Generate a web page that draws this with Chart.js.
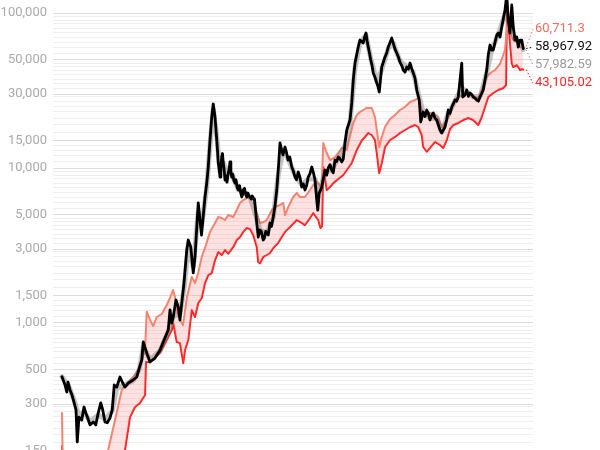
<!DOCTYPE html>
<html>
<head>
<meta charset="utf-8">
<script src="https://cdn.jsdelivr.net/npm/chart.js@4.4.1/dist/chart.umd.min.js"></script>
<style>
  html, body { margin: 0; padding: 0; width: 600px; height: 450px; overflow: hidden; background: #fff; }
  #wrap { position: absolute; left: 0; top: 0; width: 600px; height: 470px; }
</style>
</head>
<body>
<div id="wrap"><canvas id="chart" width="600" height="470"></canvas></div>
<script>
// Days since start of the series
const blackDays = [0, 24, 38, 48, 64, 80, 96, 112, 122, 136,
  158, 176, 190, 206, 224, 250, 270, 290, 310, 326,
  344, 362, 384, 402, 418, 438, 464, 486, 504, 530,
  570, 598, 618, 638, 650, 678, 704, 744, 784, 810,
  850, 864, 878, 890, 912, 930, 944, 958, 976, 998,
  1010, 1030, 1050, 1064, 1090, 1116, 1144, 1158, 1170, 1184,
  1198, 1210, 1224, 1238, 1244, 1250, 1257, 1264, 1271, 1278,
  1284, 1290, 1297, 1304, 1312, 1320, 1330, 1337, 1344, 1351,
  1358, 1366, 1375, 1384, 1392, 1401, 1410, 1420, 1430, 1438,
  1444, 1450, 1460, 1469, 1478, 1487, 1496, 1504, 1514, 1522,
  1530, 1540, 1550, 1558, 1570, 1577, 1584, 1595, 1603, 1610,
  1620, 1630, 1638, 1650, 1664, 1676, 1690, 1703, 1718, 1730,
  1744, 1756, 1768, 1784, 1796, 1808, 1822, 1838, 1850, 1864,
  1876, 1890, 1904, 1918, 1930, 1944, 1957, 1970, 1984, 1998,
  2010, 2024, 2038, 2046, 2058, 2078, 2104, 2117, 2130, 2144,
  2158, 2170, 2184, 2197, 2210, 2224, 2238, 2250, 2264, 2278,
  2304, 2318, 2330, 2344, 2370, 2384, 2410, 2421, 2432, 2441,
  2450, 2460, 2470, 2480, 2490, 2504, 2518, 2528, 2538, 2558,
  2584, 2597, 2610, 2638, 2650, 2664, 2678, 2691, 2704, 2717,
  2730, 2744, 2758, 2771, 2784, 2797, 2810, 2824, 2838, 2858,
  2870, 2890, 2904, 2918, 2931, 2944, 2957, 2970, 2984, 2998,
  3011, 3024, 3038, 3064, 3077, 3090, 3104, 3118, 3131, 3144,
  3157, 3170, 3198, 3206, 3222, 3238, 3251, 3264, 3277, 3290,
  3304, 3318, 3331, 3344, 3370, 3398, 3410, 3424, 3438, 3450,
  3478, 3490, 3504, 3518, 3544, 3558, 3570, 3584, 3598, 3610,
  3624, 3638, 3650, 3664, 3678, 3690];
const blackPrice = [450, 398, 359, 416, 370, 343, 309, 275, 171, 247,
  237, 287, 263, 244, 220, 230, 220, 263, 305, 275,
  230, 227, 244, 275, 398, 386, 448, 410, 386, 410,
  429, 448, 512, 577, 754, 640, 560, 594, 669, 754,
  901, 1213, 1000, 1093, 1407, 1268, 1046, 1345, 1811, 2958,
  3431, 3094, 2103, 2666, 5950, 3696, 6500, 8000, 10150, 15160,
  21340, 25870, 21340, 15160, 13000, 10770, 9900, 8750, 10200, 11770,
  12400, 10770, 9800, 8366, 8900, 8100, 9282, 9800, 10940, 9600,
  8750, 9100, 8300, 8000, 8400, 7500, 7211, 7700, 6900, 6500,
  6700, 7211, 7400, 6800, 6500, 6900, 6600, 6500, 6300, 6600,
  6400, 6300, 5200, 4416, 3588, 3800, 3981, 3900, 3600, 3431,
  3550, 3900, 3800, 3700, 4416, 4200, 4830, 5600, 7211, 9707,
  14500, 13200, 12130, 13660, 12600, 11260, 11800, 10150, 9600, 8750,
  8400, 9420, 8700, 7530, 7900, 7211, 7700, 8750, 9200, 10150,
  9420, 8366, 6214, 5357, 6900, 7530, 9707, 9000, 10000, 10500,
  9707, 9300, 11260, 11000, 11770, 11500, 10940, 11400, 14500, 17590,
  20400, 26300, 36960, 47560, 60330, 66940, 64020, 70000, 74290, 66000,
  60330, 55000, 49730, 46000, 41010, 38500, 35350, 33500, 30930, 44820,
  52000, 55000, 60330, 68960, 64020, 58500, 55190, 52000, 48280, 46000,
  42860, 41500, 44820, 43500, 47560, 44000, 41010, 38000, 31860, 27460,
  19800, 22980, 21500, 23670, 22500, 20400, 21800, 22640, 21000, 20400,
  19000, 17590, 16820, 18390, 20500, 23670, 22500, 24750, 26000, 27460,
  27000, 28720, 47560, 28720, 29500, 31860, 29000, 30470, 29800, 28720,
  28200, 27460, 27000, 28720, 31860, 42860, 53570, 62140, 57700, 57700,
  72110, 74290, 70000, 81220, 104560, 130700, 90120, 74290, 112630, 81220,
  66940, 70000, 60330, 66940, 66940, 58967.92];

const grayDays = [0, 48, 96, 136, 176, 224, 290, 344, 402, 438, 504, 570, 618, 650, 704, 784, 850, 890, 944, 976,
  1010, 1050, 1090, 1116, 1158, 1184, 1210, 1238, 1264, 1290, 1330, 1358, 1410, 1450, 1504, 1558, 1584, 1638, 1690, 1730,
  1768, 1808, 1864, 1918, 1970, 2024, 2058, 2104, 2158, 2210, 2264, 2304, 2344, 2384, 2432, 2470, 2518, 2558, 2610, 2650,
  2704, 2758, 2810, 2858, 2890, 2944, 2998, 3038, 3090, 3144, 3198, 3238, 3290, 3344, 3398, 3438, 3490, 3544, 3584, 3624, 3664, 3690];
const grayPrice = [450, 400, 320, 250, 270, 230, 255, 240, 270, 380, 400, 425, 500, 700, 580, 660, 880, 1100, 1150, 1650,
  3100, 2300, 5200, 4200, 7500, 14000, 24000, 16000, 9500, 10800, 9300, 9200, 7300, 7000, 6500, 4700, 4000, 3800, 4800, 9000,
  13000, 11500, 9000, 7800, 8500, 8500, 7000, 9300, 9800, 11500, 14000, 19500, 44000, 64000, 72000, 51000, 36500, 43000, 59000, 64000,
  49000, 45000, 41500, 28500, 23000, 21000, 20800, 17200, 22500, 27000, 33000, 31000, 28800, 28800, 41000, 58000, 73000, 98000, 85000, 68000, 64000, 57982.59];

const upperDays = [0, 8, 304, 344, 370, 424, 478, 530, 570, 610, 638, 664, 678, 704, 730, 758, 798, 838, 864, 888,
  904, 918, 944, 968, 1000, 1038, 1064, 1090, 1118, 1144, 1184, 1224, 1250, 1278, 1304, 1330, 1370, 1398, 1424, 1450,
  1478, 1504, 1530, 1558, 1584, 1610, 1638, 1678, 1704, 1744, 1770, 1784, 1810, 1850, 1878, 1904, 1944, 1984, 2010, 2038,
  2064, 2076, 2090, 2118, 2144, 2184, 2210, 2238, 2278, 2304, 2330, 2358, 2384, 2410, 2438, 2478, 2504, 2518, 2538, 2558,
  2584, 2624, 2664, 2704, 2744, 2784, 2824, 2850, 2864, 2878, 2904, 2930, 2970, 3010, 3038, 3064, 3104, 3144, 3170, 3210,
  3264, 3304, 3330, 3358, 3384, 3410, 3438, 3464, 3504, 3544, 3558, 3570, 3584, 3610, 3638, 3664, 3690];
const upperBand = [263, 100, 100, 130, 152, 237, 370, 416, 448, 497, 577, 669, 1183, 1046, 956, 1093, 1143, 1307, 1450, 1633,
  1472, 1213, 1046, 970, 1472, 1980, 1810, 2105, 2670, 3050, 3870, 4420, 4830, 4760, 4617, 4973, 4830, 5357, 5950, 6214,
  6400, 6400, 6500, 5120, 4420, 4480, 4617, 5357, 5600, 5770, 5950, 4973, 5600, 6500, 6900, 6500, 6500, 7211, 7767, 8120,
  7767, 7211, 14500, 12500, 11260, 11770, 12500, 13470, 13070, 16000, 19520, 21980, 22980, 23670, 24390, 24390, 21340, 17590, 13660, 15860,
  18390, 20700, 21980, 23670, 24750, 26670, 27460, 28290, 26280, 23670, 21340, 22640, 22640, 21340, 18390, 19520, 21980, 27460, 28720, 29580,
  30470, 28720, 28290, 31860, 36960, 39810, 41620, 42860, 47000, 57700, 77670, 100000, 74290, 66940, 64970, 60330, 60711.3];

const lowerDays = [0, 8, 448, 504, 544, 584, 624, 664, 672, 704, 784, 838, 878, 890, 918, 944, 970, 984, 1010, 1038,
  1064, 1090, 1118, 1144, 1170, 1198, 1224, 1250, 1278, 1304, 1330, 1370, 1398, 1424, 1450, 1478, 1504, 1530, 1558, 1570,
  1584, 1610, 1638, 1664, 1690, 1730, 1758, 1784, 1824, 1878, 1918, 1944, 1984, 2010, 2050, 2068, 2080, 2090, 2118, 2144,
  2170, 2210, 2250, 2290, 2318, 2358, 2400, 2424, 2450, 2478, 2504, 2518, 2538, 2558, 2584, 2624, 2664, 2704, 2744, 2784,
  2824, 2850, 2878, 2890, 2918, 2944, 2984, 3024, 3050, 3078, 3104, 3130, 3170, 3210, 3250, 3290, 3330, 3358, 3384, 3410,
  3450, 3490, 3530, 3552, 3560, 3584, 3598, 3610, 3638, 3650, 3664, 3678, 3690];
const lowerBand = [161, 100, 100, 152, 247, 287, 305, 343, 560, 560, 640, 777, 901, 1000, 754, 742, 551, 669, 777, 1213,
  1093, 1345, 1450, 1811, 2040, 2100, 2549, 2870, 2746, 2958, 2800, 3094, 3431, 3590, 3870, 4100, 4040, 3696, 3094, 2470,
  2430, 2666, 2746, 2830, 3050, 3290, 3590, 3870, 4160, 4617, 4420, 4286, 4760, 5120, 4617, 4100, 4200, 10150, 7211, 7530,
  7990, 8490, 9012, 10000, 10780, 13070, 15160, 15860, 16820, 16330, 15160, 12500, 9280, 10780, 13660, 15160, 15860, 16820, 17590, 18390,
  18940, 18390, 16330, 13660, 12740, 13470, 14730, 14070, 13470, 15160, 17850, 18940, 19520, 20400, 21020, 20400, 18940, 21340, 24750, 28720,
  30470, 31860, 32840, 34310, 107740, 64020, 47560, 44820, 46170, 44820, 42860, 43500, 43105.02];

// Y axis
const labelTicks = [150, 300, 500, 1000, 1500, 3000, 5000, 10000, 15000, 30000, 50000, 100000];
const decadeBases = [100, 1000, 10000];
const minorSteps = [[1, 1.5, 0.1], [1.5, 3, 0.2], [3, 5, 0.25], [5, 10, 0.5]];

const minorTicks = [];
decadeBases.forEach(b => {
  minorSteps.forEach(([from, to, step]) => {
    for (let v = from; v < to - 1e-9; v += step) minorTicks.push(Math.round(v * b));
  });
});

const toPoints = (xs, ys) => xs.map((x, i) => ({ x: x, y: ys[i] }));

const seriesLabels = [
  { ds: 0, color: '#ef6f5c' },
  { ds: 2, color: '#111111' },
  { ds: 1, color: '#9a9a9a' },
  { ds: 3, color: '#ff1f1f' }
];

// Right-hand value labels with dotted leaders
const endLabels = {
  id: 'endLabels',
  afterDatasetsDraw(chart) {
    const { ctx, chartArea } = chart;
    const yScale = chart.scales.y;
    const xScale = chart.scales.x;
    const items = seriesLabels.map(s => {
      const data = chart.data.datasets[s.ds].data;
      const last = data[data.length - 1];
      return { color: s.color, value: last.y, px: xScale.getPixelForValue(last.x), py: yScale.getPixelForValue(last.y) };
    });
    items.sort((a, b) => a.py - b.py);
    // spread overlapping labels
    const gap = 18;
    let groups = items.map(it => ({ members: [it], center: it.py }));
    let merged = true;
    while (merged) {
      merged = false;
      for (let i = 0; i < groups.length - 1; i++) {
        const a = groups[i], b = groups[i + 1];
        const aBottom = a.center + (a.members.length - 1) * gap / 2;
        const bTop = b.center - (b.members.length - 1) * gap / 2;
        if (bTop - aBottom < gap) {
          const members = a.members.concat(b.members);
          const center = members.reduce((s, m) => s + m.py, 0) / members.length;
          groups.splice(i, 2, { members, center });
          merged = true;
          break;
        }
      }
    }
    ctx.save();
    ctx.font = '13px Roboto, "Noto Sans", sans-serif';
    ctx.textBaseline = 'middle';
    groups.forEach(g => {
      g.members.forEach((m, k) => {
        const ly = g.center + (k - (g.members.length - 1) / 2) * gap + 2.5;
        ctx.strokeStyle = m.color;
        ctx.lineWidth = 1;
        ctx.setLineDash([1.5, 2]);
        ctx.beginPath();
        ctx.moveTo(m.px + 3, m.py);
        ctx.lineTo(chartArea.right, ly);
        ctx.stroke();
        ctx.setLineDash([]);
        ctx.fillStyle = m.color;
        ctx.fillText(Number(m.value).toLocaleString('en-US', { maximumFractionDigits: 2 }), chartArea.right + 2, ly);
      });
    });
    ctx.restore();
  }
};

new Chart(document.getElementById('chart'), {
  type: 'line',
  data: {
    datasets: [
      {
        label: 'Upper',
        data: toPoints(upperDays, upperBand),
        borderColor: '#f4836f',
        borderWidth: 2,
        backgroundColor: 'rgba(250, 150, 150, 0.28)',
        fill: { target: 3 },
        order: 3
      },
      {
        label: 'Average',
        data: toPoints(grayDays, grayPrice),
        borderColor: 'rgba(110, 110, 110, 0.4)',
        borderWidth: 5,
        fill: false,
        order: 2
      },
      {
        label: 'Price',
        data: toPoints(blackDays, blackPrice),
        borderColor: '#000000',
        borderWidth: 2.8,
        fill: false,
        order: 1
      },
      {
        label: 'Lower',
        data: toPoints(lowerDays, lowerBand),
        borderColor: '#ff1a1a',
        borderWidth: 2,
        fill: false,
        order: 4
      }
    ]
  },
  options: {
    responsive: false,
    animation: false,
    devicePixelRatio: 1,
    layout: { padding: { left: 0, right: 67, top: 0, bottom: 0 } },
    elements: {
      point: { radius: 0, hoverRadius: 0 },
      line: { tension: 0, borderJoinStyle: 'round', borderCapStyle: 'round' }
    },
    plugins: {
      legend: { display: false },
      tooltip: { enabled: false }
    },
    scales: {
      x: {
        type: 'linear',
        min: -72,
        max: 3768,
        display: false
      },
      y: {
        type: 'logarithmic',
        min: 112.6,
        max: 121330,
        afterFit: (scale) => {
          scale.width = 53;
          scale.paddingTop = 0;
          scale.paddingBottom = 0;
        },
        afterBuildTicks: (scale) => {
          const vals = labelTicks.concat(minorTicks.filter(v => !labelTicks.includes(v)));
          scale.ticks = vals.filter(v => v >= scale.min && v <= 100000).sort((a, b) => a - b).map(v => ({ value: v, major: labelTicks.includes(v) }));
        },
        border: { display: false },
        grid: {
          drawTicks: false,
          color: (c) => labelTicks.includes(c.tick.value) ? '#dcdcdc' : '#eeeeee',
          lineWidth: 1
        },
        ticks: {
          padding: 6,
          autoSkip: false,
          color: '#aaaaaa',
          font: { family: 'Roboto', size: 13 },
          callback: (v) => labelTicks.includes(v) ? v.toLocaleString('en-US') : ''
        }
      }
    }
  },
  plugins: [endLabels]
});
</script>
</body>
</html>
